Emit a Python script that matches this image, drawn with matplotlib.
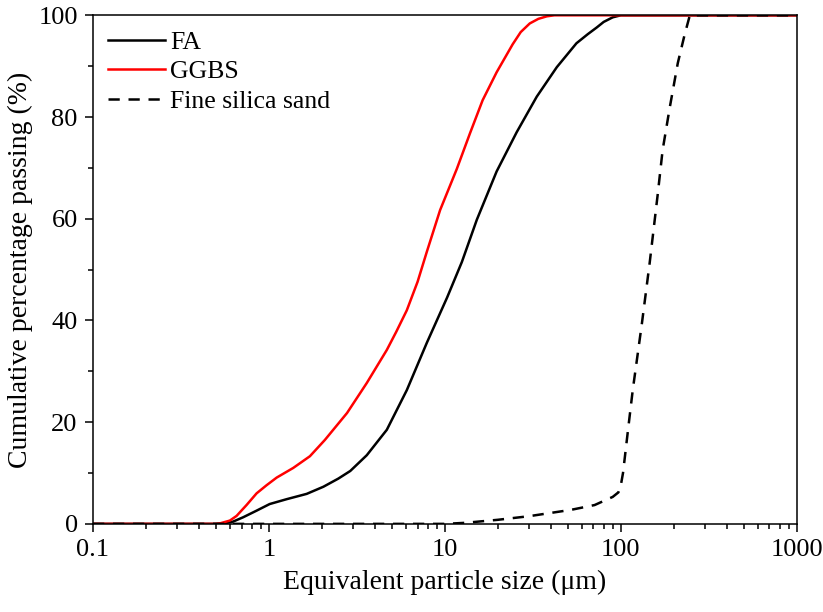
import matplotlib.pyplot as plt
from matplotlib.ticker import LogLocator, MultipleLocator, NullFormatter, FixedFormatter, FixedLocator

plt.rcParams.update({
    "font.family": ["Liberation Serif", "DejaVu Serif"],
    "font.size": 19,
    "axes.linewidth": 1.1,
})

# particle size (um) and cumulative passing (%)
FA_SIZE = [0.1, 0.3, 0.5, 0.56, 0.626, 0.714, 0.851, 1.01, 1.26, 1.64, 2.04, 2.48, 2.9,
           3.6, 4.68, 6.08, 7.9, 10.3, 12.5, 15.2, 19.7, 25.6, 33.3, 43.3, 56, 65,
           73, 80, 90, 100, 1000]
FA_PASS = [0, 0, 0, 0.1, 0.45, 1.3, 2.6, 3.9, 4.85, 5.9, 7.3, 8.9, 10.4,
           13.5, 18.5, 26.3, 35.6, 44.5, 51.5, 59.8, 69.3, 77, 84, 89.8, 94.5, 96.3,
           97.6, 98.7, 99.6, 100, 100]

GGBS_SIZE = [0.1, 0.3, 0.5, 0.527, 0.6, 0.655, 0.746, 0.851, 0.97, 1.107, 1.375, 1.71,
             2.08, 2.78, 3.6, 4.68, 5.3, 6.08, 7.0, 7.9, 9.4, 11.7, 13.9, 16.4, 19.7, 24.3,
             27, 30.4, 34, 38, 42, 1000]
GGBS_PASS = [0, 0, 0, 0.1, 0.65, 1.57, 3.7, 6.0, 7.6, 9.1, 11.0, 13.3,
             16.5, 21.8, 27.7, 34.2, 37.8, 42, 47.6, 53.5, 61.7, 69.8, 76.8, 83.3, 88.8, 94.3,
             96.7, 98.4, 99.3, 99.8, 100, 100]

SAND_SIZE = [0.1, 1, 10, 13, 20, 30, 52, 71, 90, 97, 100, 103, 110, 117, 132, 146, 162,
             173, 190, 211, 230, 247, 1000]
SAND_PASS = [0, 0, 0, 0.2, 0.8, 1.5, 2.75, 3.7, 5.3, 6.2, 7.5, 10, 18.5, 26.3, 39.5, 51.3,
             64.6, 73.5, 81.9, 90.6, 96, 100, 100]

fig = plt.figure(figsize=(8.23, 6.12), dpi=100)
ax = fig.add_axes([0.113, 0.144, 0.855, 0.831])

ax.plot(FA_SIZE, FA_PASS, color="black", lw=1.8, label="FA", solid_joinstyle="round")
ax.plot(GGBS_SIZE, GGBS_PASS, color="#FF0000", lw=1.8, label="GGBS", solid_joinstyle="round")
ax.plot(SAND_SIZE, SAND_PASS, color="black", lw=1.8, ls=(0, (4.5, 3.5)),
        label="Fine silica sand")

ax.set_xscale("log")
ax.set_xlim(0.1, 1000)
ax.set_ylim(0, 100)

ax.xaxis.set_major_locator(FixedLocator([0.1, 1, 10, 100, 1000]))
ax.xaxis.set_major_formatter(FixedFormatter(["0.1", "1", "10", "100", "1000"]))
ax.xaxis.set_minor_locator(LogLocator(base=10, subs=range(2, 10)))
ax.xaxis.set_minor_formatter(NullFormatter())
ax.yaxis.set_major_locator(MultipleLocator(20))
ax.yaxis.set_minor_locator(MultipleLocator(10))

ax.tick_params(which="both", direction="out", top=False, right=False, width=1.1)
ax.tick_params(which="major", length=6, pad=5)
ax.tick_params(which="minor", length=3.5)

ax.set_xlabel("Equivalent particle size (μm)", fontsize=20, labelpad=6)
ax.set_ylabel("Cumulative percentage passing (%)", fontsize=20, labelpad=4)

ax.legend(loc="upper left", frameon=False, fontsize=18.5, handlelength=2.2,
          handletextpad=0.2, labelspacing=0.25, borderaxespad=0.2)

fig.savefig("out.png", dpi=100)
